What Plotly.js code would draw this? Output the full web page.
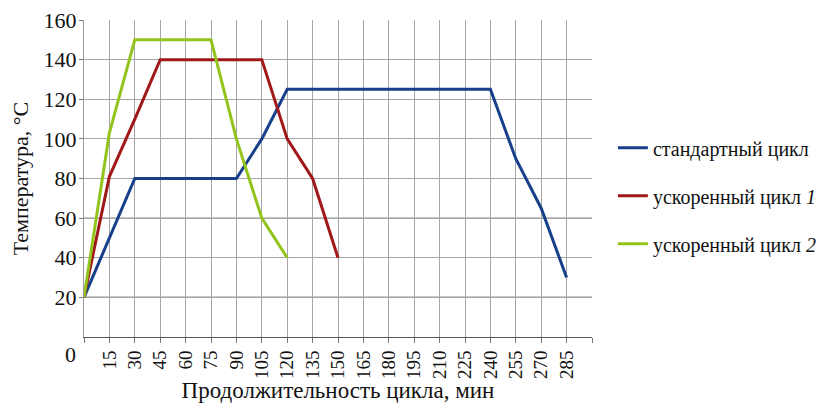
<!DOCTYPE html>
<html>
<head>
<meta charset="utf-8">
<script src="https://cdn.plot.ly/plotly-3.0.1.min.js"></script>
<style>html,body{margin:0;padding:0;background:#fff;}#chart{width:826px;height:403px;}</style>
</head>
<body>
<div id="chart"></div>
<script>
// Data
const timeStd = [0, 15, 30, 45, 60, 75, 90, 105, 120, 135, 150, 165, 180, 195, 210, 225, 240, 255, 270, 285];
const tempStd = [20, 50, 80, 80, 80, 80, 80, 100, 125, 125, 125, 125, 125, 125, 125, 125, 125, 90, 65, 30];
const timeFast1 = [0, 15, 30, 45, 60, 75, 90, 105, 120, 135, 150];
const tempFast1 = [20, 81, 110, 140, 140, 140, 140, 140, 100, 80, 40];
const timeFast2 = [0, 15, 30, 45, 60, 75, 90, 105, 120];
const tempFast2 = [20, 103, 150, 150, 150, 150, 100, 60, 40];
const seriesNames = ['стандартный цикл', 'ускоренный цикл <i>1</i>', 'ускоренный цикл <i>2</i>'];
const xTickVals = [0, 15, 30, 45, 60, 75, 90, 105, 120, 135, 150, 165, 180, 195, 210, 225, 240, 255, 270, 285, 300];
const xTickText = ['', '15', '30', '45', '60', '75', '90', '105', '120', '135', '150', '165', '180', '195', '210', '225', '240', '255', '270', '285', ''];
const yTickVals = [20, 40, 60, 80, 100, 120, 140, 160];
const xTitle = 'Продолжительность цикла, мин';
const yTitle = 'Температура, °С';

const FONT = 'Liberation Serif';
const colors = ['#173f8a', '#a01818', '#93c41c'];

const traces = [
  {x: timeStd, y: tempStd, name: seriesNames[0], legendgroup: 'a'},
  {x: timeFast1, y: tempFast1, name: seriesNames[1], legendgroup: 'b'},
  {x: timeFast2, y: tempFast2, name: seriesNames[2], legendgroup: 'c'}
].map((t, i) => Object.assign(t, {
  type: 'scatter', mode: 'lines',
  line: {color: colors[i], width: 3},
  hoverinfo: 'skip'
}));

const layout = {
  width: 826, height: 403,
  margin: {l: 84, r: 234, t: 20, b: 66},
  paper_bgcolor: '#fff', plot_bgcolor: '#fff',
  font: {family: FONT, color: '#111', size: 18},
  showlegend: true,
  legend: {
    xref: 'container', yref: 'container',
    x: 0.742, y: 0.514, xanchor: 'left', yanchor: 'middle',
    traceorder: 'grouped', tracegroupgap: 19,
    font: {family: FONT, size: 20, color: '#111'},
    itemwidth: 30, bgcolor: 'rgba(0,0,0,0)'
  },
  xaxis: {
    range: [0, 300], tickmode: 'array', tickvals: xTickVals, ticktext: xTickText,
    tickangle: -90, tickfont: {family: FONT, size: 19, color: '#111'},
    showgrid: true, gridcolor: '#a6a6a6', gridwidth: 1,
    showline: true, linecolor: '#555', linewidth: 1,
    ticks: 'outside', ticklen: 5, tickcolor: '#777',
    zeroline: false, fixedrange: true,
    title: {text: xTitle, font: {family: FONT, size: 23, color: '#111'}, standoff: 2}
  },
  yaxis: {
    range: [0, 160], tickmode: 'array', tickvals: yTickVals,
    tickfont: {family: FONT, size: 22, color: '#111'},
    showgrid: true, gridcolor: '#a6a6a6', gridwidth: 1,
    showline: true, linecolor: '#999', linewidth: 1,
    ticks: 'outside', ticklen: 4, tickcolor: '#777', ticklabelstandoff: -2,
    zeroline: false, fixedrange: true,
    title: {text: yTitle, font: {family: FONT, size: 22, color: '#111'}, standoff: 8}
  },
  shapes: [
    {type: 'line', xref: 'paper', x0: 0, x1: 1, yref: 'y', y0: 20, y1: 20, line: {color: '#222', width: 1.2}, layer: 'below'},
    {type: 'line', xref: 'paper', x0: 0, x1: 1, yref: 'y', y0: 60, y1: 60, line: {color: '#666', width: 1}, layer: 'below'}
  ],
  annotations: [
    {text: '0', xref: 'paper', x: 0, xanchor: 'right', xshift: -6, yref: 'y', y: 0, yanchor: 'middle', yshift: -17,
     showarrow: false, font: {family: FONT, size: 22, color: '#111'}}
  ]
};

Plotly.newPlot('chart', traces, layout, {displayModeBar: false, staticPlot: true});
</script>
</body>
</html>
